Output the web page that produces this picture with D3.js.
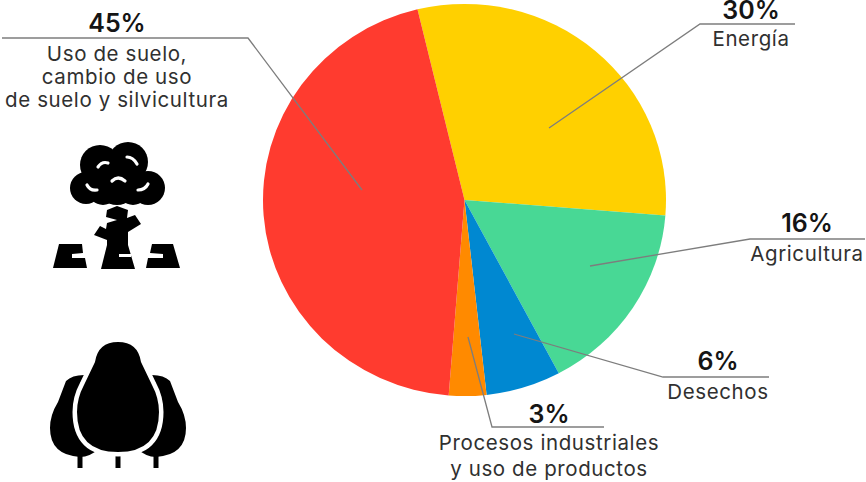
<!DOCTYPE html>
<html><head><meta charset="utf-8">
<script src="https://cdnjs.cloudflare.com/ajax/libs/d3/7.8.5/d3.min.js"></script>
<style>html,body{margin:0;padding:0;background:#fff}svg{display:block}
text{font-family:Inter,"Open Sans",sans-serif;fill:#303030;text-anchor:middle}
.pct{font-size:25px;font-weight:600;fill:#151515}
.lab{font-size:20.5px;font-weight:400;letter-spacing:.6px}</style>
</head><body><svg id="c" width="866" height="482"></svg>
<script>
const categories = ["Energía","Agricultura","Desechos","Procesos industriales y uso de productos","Uso de suelo, cambio de uso de suelo y silvicultura"];
const values = [30,16,6,3,45];
const colors = ["#ffd000","#48d895","#0088d1","#ff8a00","#ff3b2f"];
const percentLabels = ["30%","16%","6%","3%","45%"];
const labelLines = [["Energía"],["Agricultura"],["Desechos"],["Procesos industriales","y uso de productos"],["Uso de suelo,","cambio de uso","de suelo y silvicultura"]];
const svg = d3.select("#c");
const pie = d3.pie().sort(null).startAngle(-13.5*Math.PI/180).endAngle((360-13.5)*Math.PI/180);
const arc = d3.arc().innerRadius(0).outerRadius(201.5);
svg.append("g").attr("transform","translate(464.5,200) scale(1,0.973)")
  .selectAll("path").data(pie(values)).join("path")
  .attr("d",arc).attr("fill",(d,i)=>colors[i]);

const leaders = [
 {rule:[795,700,24],  tip:[549,128]},
 {rule:[865,750,239], tip:[590,266]},
 {rule:[769,663,377], tip:[514,334]},
 {rule:[604,492,427], tip:[468,337]},
 {rule:[2,248,38],    tip:[362,190]}
];
const line = d3.line();
svg.append("g").selectAll("path").data(leaders).join("path")
  .attr("d",d=>line([[d.rule[0],d.rule[2]],[d.rule[1],d.rule[2]],d.tip]))
  .attr("fill","none").attr("stroke","#7d7d7d").attr("stroke-width",1.3);

const anchors = [
 {x:751,p:19,l:[46]},
 {x:807,p:232,l:[261]},
 {x:718,p:370,l:[399]},
 {x:549,p:423,l:[450,476]},
 {x:117,p:32,l:[61,84,107]}
];
anchors.forEach((a,i)=>{
  svg.append("text").attr("class","pct").attr("x",a.x).attr("y",a.p).text(percentLabels[i]);
  labelLines[i].forEach((t,j)=>svg.append("text").attr("class","lab").attr("x",a.x).attr("y",a.l[j]).text(t));
});

// icon 1: felled forest
const g1 = svg.append("g").attr("fill","#000");
[[86,188,16],[148,188,17],[100,165,20],[128,162,20],[117,185,20],[117,172,22],[103,190,15],[133,190,15]].forEach(c=>g1.append("circle").attr("cx",c[0]).attr("cy",c[1]).attr("r",c[2]));
g1.append("path").attr("d","M107 210L117 206L128 210L127 218L135 215L141 224L128 232L128 245L135 269L101 269L107 245L107 240L94 235L100 226L106 229L107 223L117 220L106 217Z");
g1.append("path").attr("d","M59 244H82L83 253L72 254V258L85 258L87 268L53 268Z");
g1.append("path").attr("d","M152 244H173L180 268L146 268L148 258L163 258V254L150 253Z");
const notes=["M98 167Q102 161 108 163","M127 157Q133 157 137 164","M112 181Q118 175 125 181","M87 185Q90 191 97 190","M138 190Q145 190 148 184"];
svg.append("g").selectAll("path").data(notes).join("path").attr("d",d=>d).attr("fill","none").attr("stroke","#fff").attr("stroke-width",3.2).attr("stroke-linecap","round");
svg.append("path").attr("d","M119 255.5H131").attr("stroke","#fff").attr("stroke-width",3);

// icon 2: three trees
const g2 = svg.append("g");
[[80,450,468],[118,450,468],[156,450,468]].forEach(s=>g2.append("path").attr("d",`M${s[0]} ${s[1]}V${s[2]}`).attr("stroke","#000").attr("stroke-width",5));
g2.append("path").attr("fill","#000").attr("d","M84 375Q72 375 66 381L58 402Q50 415 50 428Q50 455 80 457Q90 457 100 448L84 375Z");
g2.append("path").attr("fill","#000").attr("d","M152 375Q164 375 170 381L178 402Q186 415 186 428Q186 455 156 457Q146 457 136 448L152 375Z");
g2.append("path").attr("fill","#000").attr("stroke","#fff").attr("stroke-width",9).attr("paint-order","stroke")
  .attr("d","M118 342Q138 342 141 362L152 385Q159 398 159 412Q159 452 118 452Q77 452 77 412Q77 398 84 385L95 362Q98 342 118 342Z");
</script></body></html>
